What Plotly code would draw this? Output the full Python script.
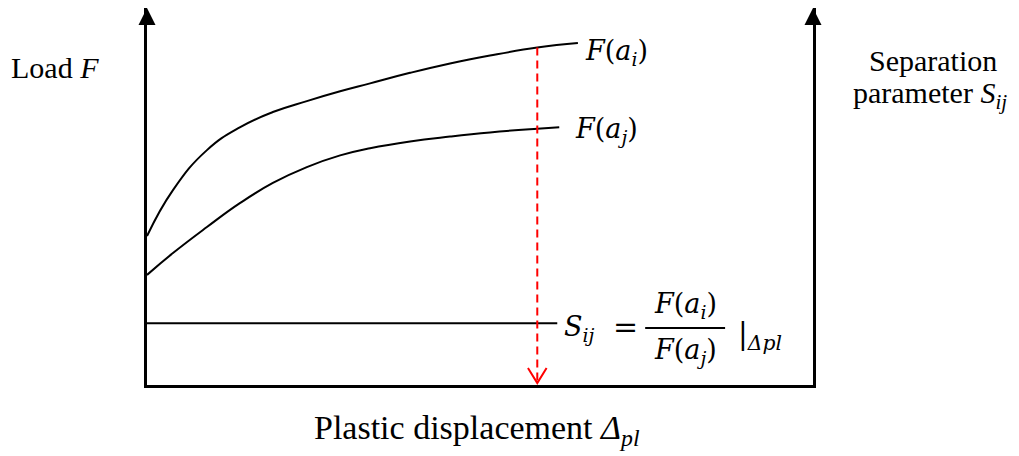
import plotly.graph_objects as go

# schematic curves (arbitrary units)
disp_i = [0, 0.39, 0.90, 1.40, 1.89, 2.40, 2.90, 3.35, 3.95, 4.55, 5.15, 5.86, 6.47]
load_i = [3.95, 5.17, 6.23, 6.84, 7.24, 7.53, 7.79, 8.00, 8.28, 8.53, 8.74, 8.95, 9.07]

disp_j = [0, 0.39, 0.90, 1.40, 1.89, 2.40, 2.90, 3.35, 3.95, 4.55, 5.15, 5.86, 6.19]
load_j = [2.92, 3.50, 4.19, 4.83, 5.36, 5.78, 6.09, 6.28, 6.46, 6.59, 6.70, 6.80, 6.84]

sep_disp = [0, 6.16]
sep_value = [1.64, 1.64]

cut_disp = 5.86          # where the ratio is evaluated
cut_top = 8.95
cut_bottom = 0.05

serif = "Liberation Serif"
mathfont = "DejaVu Serif"
black = "black"
red = "#ff0000"

fig = go.Figure()

curve_line = dict(color=black, width=2, shape="spline", smoothing=1.3)
fig.add_trace(go.Scatter(x=disp_i, y=load_i, mode="lines", line=curve_line))
fig.add_trace(go.Scatter(x=disp_j, y=load_j, mode="lines", line=curve_line))
fig.add_trace(go.Scatter(x=sep_disp, y=sep_value, mode="lines", line=dict(color=black, width=2)))

# red dashed drop line with open arrow head
fig.add_trace(go.Scatter(x=[cut_disp, cut_disp], y=[cut_top, cut_bottom], mode="lines",
                         line=dict(color=red, width=2, dash="8px,5px")))
hw, hh = 0.14, 0.40
fig.add_trace(go.Scatter(x=[cut_disp - hw, cut_disp, cut_disp + hw],
                         y=[cut_bottom + hh, cut_bottom, cut_bottom + hh],
                         mode="lines", line=dict(color=red, width=2)))

# arrow heads on the two vertical axes
fig.add_trace(go.Scatter(x=[0, 10], y=[10, 10], mode="markers", cliponaxis=False,
                         marker=dict(symbol="arrow-up", size=17, color=black, line=dict(width=0))))

ann = []
def label(x, y, text, size=28, xanchor="center", family=serif, ref="x"):
    ann.append(dict(x=x, y=y, xref=ref, yref=ref.replace("x", "y"), text=text, showarrow=False,
                    xanchor=xanchor, yanchor="middle", font=dict(family=family, size=size, color=black)))

# axis titles (paper coords, outside the plot area)
label(-0.138, 0.843, "Load <i>F</i>", size=30, ref="paper")
label(1.180, 0.862, "Separation", size=30, ref="paper")
label(1.176, 0.768, "parameter <i>S<sub>ij</sub></i>", size=30, ref="paper")
label(0.495, -0.119, "Plastic displacement <i>Δ<sub>pl</sub></i>", size=34, ref="paper")

label(6.55, 8.83, "<i>F</i>(<i>a<sub>i</sub></i>)", size=27, xanchor="left", family=mathfont)
label(6.40, 6.76, "<i>F</i>(<i>a<sub>j</sub></i>)", size=27, xanchor="left", family=mathfont)

label(6.23, 1.50, "<i>S<sub>ij</sub></i>", size=27, xanchor="left", family=mathfont)
label(7.19, 1.56, "=", size=30, family=mathfont)
label(8.08, 2.12, "<i>F</i>(<i>a<sub>i</sub></i>)", size=27, family=mathfont)
label(8.08, 0.88, "<i>F</i>(<i>a<sub>j</sub></i>)", size=27, family=mathfont)
label(8.84, 1.30, "|<sub><i>Δpl</i></sub>", size=29, xanchor="left", family=mathfont)

fig.add_shape(type="line", xref="x", yref="y", x0=7.48, x1=8.68, y0=1.51, y1=1.51,
              line=dict(color=black, width=2))

# page body has an 8px margin, so the figure is placed 8px in
fig.update_layout(
    width=1011, height=448,
    margin=dict(l=139, r=206, t=0, b=71),
    plot_bgcolor="white", paper_bgcolor="white",
    showlegend=False,
    annotations=ann,
    xaxis=dict(range=[0, 10], showgrid=False, zeroline=False, showticklabels=False, ticks="",
               showline=True, linecolor=black, linewidth=2.5),
    yaxis=dict(range=[0, 10], showgrid=False, zeroline=False, showticklabels=False, ticks="",
               showline=True, linecolor=black, linewidth=2.5, mirror=True),
)

fig.write_html("out.html")
